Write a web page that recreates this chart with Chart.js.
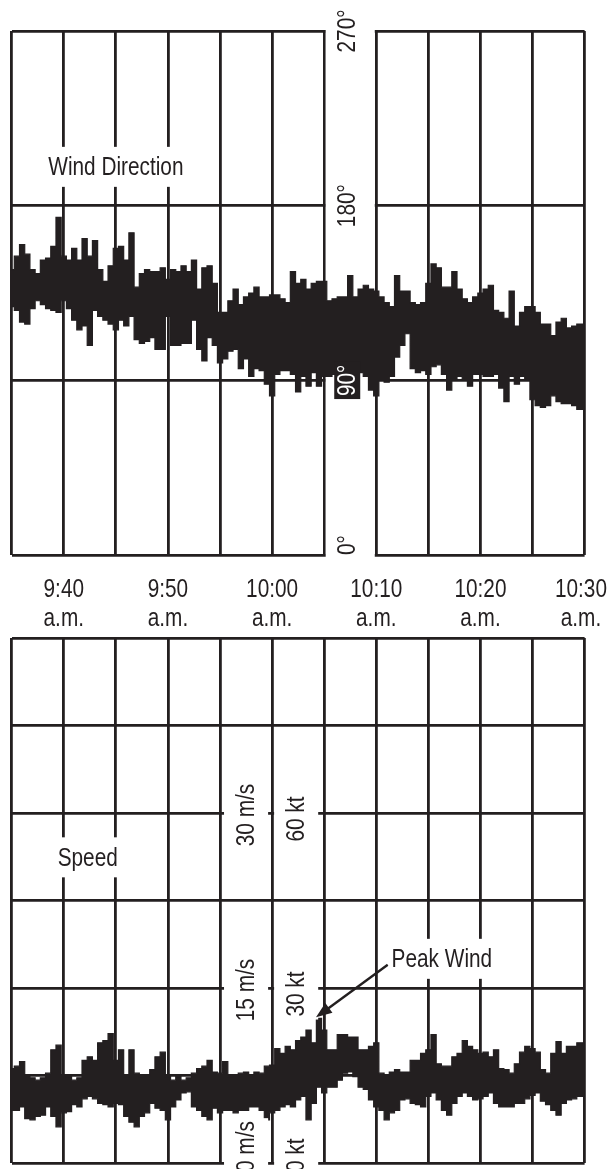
<!DOCTYPE html>
<html>
<head>
<meta charset="utf-8">
<script src="https://cdn.jsdelivr.net/npm/chart.js@4.4.0/dist/chart.umd.min.js"></script>
<style>
  html, body { margin: 0; padding: 0; background: #fff; }
  #wrap { position: relative; width: 609px; height: 1169px; overflow: hidden; }
  #wrap canvas { position: absolute; left: 0; top: 0; }
</style>
</head>
<body>
<div id="wrap">
  <canvas id="dirChart" width="609" height="1169"></canvas>
  <canvas id="speedChart" width="609" height="1169"></canvas>
</div>
<script>
/* wind record, 9:35 to 10:30 a.m. -- x is minutes after 9:35 */

const minutes = [
  0,0.5,1,1.5,2,2.5,3,3.5,4,4.5,
  5,5.5,6,6.5,7,7.5,8,8.5,9,9.5,
  10,10.5,11,11.5,12,12.5,13,13.5,14,14.5,
  15,15.5,16,16.5,17,17.5,18,18.5,19,19.5,
  20,20.5,21,21.5,22,22.5,23,23.5,24,24.5,
  25,25.5,26,26.5,27,27.5,28,28.5,29,29.5,
  30,30.5,31,31.5,32,32.5,33,33.5,34,34.5,
  35,35.5,36,36.5,37,37.5,38,38.5,39,39.5,
  40,40.5,41,41.5,42,42.5,43,43.5,44,44.5,
  45,45.5,46,46.5,47,47.5,48,48.5,49,49.5,
  50,50.5,51,51.5,52,52.5,53,53.5,54,54.5,
  55
];

// wind direction (degrees), upper and lower edge of the trace
const dirHigh = [
  147,154,160,155,147,145,152,153,159,174,
  154,152,158,152,163,154,162,147,141,149,
  158,159,152,166,138,145,147,146,146,148,
  142,147,146,149,146,152,137,148,149,140,
  125,125,131,137,129,133,135,138,133,133,
  134,134,132,130,146,140,142,137,140,141,
  141,131,132,133,133,144,133,137,139,137,
  136,133,130,128,144,136,136,130,129,130,
  140,150,148,138,138,146,137,132,130,133,
  135,137,139,126,125,122,136,118,125,128,
  128,125,119,119,113,120,122,117,118,119,
  119
];
const dirLow = [
  128,126,120,119,127,131,129,127,126,125,
  131,127,121,116,118,108,126,123,121,119,
  116,121,118,123,111,109,110,112,106,106,
  123,108,108,109,109,121,106,100,112,108,
  99,101,105,106,96,101,92,96,95,88,
  82,93,95,95,93,84,92,87,94,87,
  92,92,93,94,96,99,95,94,92,85,
  82,90,89,92,102,108,114,96,94,95,
  93,97,98,93,85,90,92,90,87,93,
  93,92,92,93,86,79,92,88,92,91,
  80,77,76,77,82,79,78,78,77,75,
  75
];

// wind speed (m/s), upper and lower edge of the trace
const speedHigh = [
  8.1,8.3,8.7,7.5,7.3,7.1,7.3,7.7,9.7,10.1,
  7.5,7.4,7.1,7.3,8.8,9.1,8.8,10.3,10.5,11.1,
  8.8,9.7,7.4,9.7,7.7,7.4,7.5,8.0,9.1,9.5,
  7.4,7.1,7.4,7.1,7.3,7.7,8.1,8.3,8.8,7.8,
  7.7,8.7,7.4,7.5,7.7,7.8,7.5,7.8,7.7,8.3,
  8.4,9.8,9.4,10.0,9.7,10.5,10.8,11.4,10.3,12.4,
  11.4,9.7,9.7,11.0,11.0,10.8,10.8,9.7,9.7,10.0,
  10.3,7.7,7.5,7.8,8.0,7.8,7.8,8.8,8.8,9.4,
  9.7,11.0,8.5,8.3,8.3,9.1,9.4,10.5,10.0,9.7,
  9.4,9.5,9.1,9.7,8.1,8.0,7.7,8.5,9.5,10.0,
  9.8,9.5,8.0,7.7,9.4,10.4,9.4,10.0,10.0,10.3,
  10.3
];
const speedLow = [
  4.5,4.5,4.8,3.8,3.7,4.0,4.1,4.8,4.0,3.1,
  4.3,4.4,5.0,4.8,5.5,5.7,5.5,5.1,5.0,4.8,
  5.1,5.0,4.0,3.5,3.1,4.0,4.3,5.1,4.7,4.5,
  3.7,4.8,5.4,6.0,6.1,4.8,4.5,4.0,3.7,4.7,
  4.3,4.5,4.5,4.3,4.5,4.5,4.8,4.8,4.5,3.7,
  4.3,4.5,4.8,5.0,4.8,5.4,5.7,3.7,5.1,6.5,
  6.0,6.5,6.5,7.1,7.7,7.8,7.4,6.5,6.3,5.4,
  4.8,4.5,3.7,4.3,4.5,5.4,5.5,5.1,5.0,4.8,
  5.7,6.0,5.4,4.5,4.1,5.1,5.7,6.0,5.7,5.4,
  5.5,5.7,6.0,5.1,4.8,4.8,4.8,5.1,5.1,5.5,
  5.8,6.0,5.3,5.0,4.5,4.1,5.1,5.4,5.5,5.7,
  5.7
];

// tick labels
const timeTicks = [5, 15, 25, 35, 45, 55];
const timeLabels = ['9:40', '9:50', '10:00', '10:10', '10:20', '10:30'];
const dirTicks = [270, 180, 90, 0];
const dirLabels = ['270°', '180°', '90°', '0°'];
const speedTicks = [30, 15, 0];
const msLabels = ['30 m/s', '15 m/s', '0 m/s'];
const ktLabels = ['60 kt', '30 kt', '0 kt'];

const INK = '#231f20';
const FONT = "26px 'Liberation Sans', Arial, sans-serif";
const NARROW = 0.8;   // squeeze to a condensed face

function points(ys){
  return ys.map((v, i) => ({x: minutes[i], y: v}));
}

function traceSets(high, low){
  return [
    {data: points(high), borderColor: INK, backgroundColor: INK, borderWidth: 1.2, stepped: 'middle', fill: '+1', pointRadius: 0},
    {data: points(low), borderColor: INK, borderWidth: 1.2, stepped: 'middle', fill: false, pointRadius: 0}
  ];
}

function chartOptions(yMax, yStep, padding){
  const grid = {color: INK, lineWidth: 2.8, drawTicks: false};
  return {
    responsive: false,
    animation: false,
    devicePixelRatio: 1,
    layout: {padding: padding},
    plugins: {legend: {display: false}, tooltip: {enabled: false}},
    elements: {line: {tension: 0}},
    scales: {
      x: {type: 'linear', min: 0, max: 55, ticks: {stepSize: 5, display: false}, grid: grid, border: {display: false}},
      y: {type: 'linear', min: 0, max: yMax, ticks: {stepSize: yStep, display: false}, grid: grid, border: {display: false}}
    }
  };
}

function textWidth(ctx, text){
  ctx.font = FONT;
  return ctx.measureText(text).width * NARROW;
}

// horizontal condensed text centred on cx, baseline mode as given
function putText(ctx, text, cx, y, baseline){
  ctx.save();
  ctx.translate(cx, y);
  ctx.scale(NARROW, 1);
  ctx.font = FONT;
  ctx.fillStyle = INK;
  ctx.textAlign = 'center';
  ctx.textBaseline = baseline;
  ctx.fillText(text, 0, 0);
  ctx.restore();
}

// plain horizontal label on a white patch
function boxedText(ctx, text, cx, cy){
  const w = textWidth(ctx, text);
  ctx.fillStyle = '#fff';
  ctx.fillRect(cx - w/2 - 3, cy - 20, w + 6, 40);
  putText(ctx, text, cx, cy + 1, 'middle');
}

// rotated label reading upwards; align 'center' or 'start' (start = bottom end)
function upText(ctx, text, x, y, align, halfAcross, fill, color){
  const w = textWidth(ctx, text);
  ctx.save();
  ctx.translate(x, y);
  ctx.rotate(-Math.PI / 2);
  const x0 = align === 'start' ? 0 : -w / 2;
  if(fill){
    ctx.fillStyle = fill;
    ctx.fillRect(x0 - 3, -halfAcross, w + 6, halfAcross * 2);
  }
  ctx.translate(x0, 1);
  ctx.scale(NARROW, 1);
  ctx.font = FONT;
  ctx.fillStyle = color || INK;
  ctx.textAlign = 'left';
  ctx.textBaseline = 'middle';
  ctx.fillText(text, 0, 0);
  ctx.restore();
}

/* TOP : DIRECTION */

const dirDecor = {
  id: 'dirDecor',
  beforeDatasetsDraw(chart){
    // open the frame between 10:05 and 10:10 for the scale labels
    const {ctx, chartArea, scales} = chart;
    const a = scales.x.getPixelForValue(30) + 1.5;
    const b = scales.x.getPixelForValue(35) - 1.5;
    ctx.save();
    ctx.fillStyle = '#fff';
    ctx.fillRect(a, chartArea.top - 3, b - a, chartArea.bottom - chartArea.top + 6);
    ctx.restore();
  },
  afterDatasetsDraw(chart){
    const {ctx, scales} = chart;
    const xs = scales.x, ys = scales.y;
    const gapX = (xs.getPixelForValue(30) + xs.getPixelForValue(35)) / 2 - 3;
    ctx.save();
    dirTicks.forEach((d, i) => {
      const y = ys.getPixelForValue(d);
      if(d === 0){
        upText(ctx, dirLabels[i], gapX, y, 'start', 13, '#fff');
      } else if(d === 90){
        upText(ctx, dirLabels[i], gapX, y, 'center', 13, INK, '#fff');
      } else {
        upText(ctx, dirLabels[i], gapX, y, 'center', 13, '#fff');
      }
    });
    boxedText(ctx, 'Wind Direction', xs.getPixelForValue(10), ys.getPixelForValue(200));

    timeTicks.forEach((t, i) => {
      let x = xs.getPixelForValue(t);
      const half = textWidth(ctx, timeLabels[i]) / 2;
      if(x + half > chart.width - 2) x = chart.width - 2 - half;
      putText(ctx, timeLabels[i], x, 597, 'alphabetic');
      putText(ctx, 'a.m.', x, 626, 'alphabetic');
    });
    ctx.restore();
  }
};

new Chart(document.getElementById('dirChart'), {
  type: 'line',
  data: {datasets: traceSets(dirHigh, dirLow)},
  options: chartOptions(270, 90, {left: 11.7, right: 24.4, top: 31, bottom: 614}),
  plugins: [dirDecor]
});

/* BOTTOM : SPEED */

const speedDecor = {
  id: 'speedDecor',
  afterDatasetsDraw(chart){
    const {ctx, scales} = chart;
    const xs = scales.x, ys = scales.y;
    const x20 = xs.getPixelForValue(20), x25 = xs.getPixelForValue(25), x30 = xs.getPixelForValue(30);
    const msX = (x20 + x25) / 2, ktX = (x25 + x30) / 2 - 2;
    const halfA = (x25 - x20) / 2 - 4, halfB = (x30 - x25) / 2 - 4;
    ctx.save();
    speedTicks.forEach((v, i) => {
      const y = ys.getPixelForValue(v);
      if(v === 0){
        upText(ctx, msLabels[i], msX, y + 9, 'start', halfA, '#fff');
        upText(ctx, ktLabels[i], ktX, y + 9, 'start', halfB, '#fff');
      } else {
        upText(ctx, msLabels[i], msX, y + 2, 'center', halfA, '#fff');
        upText(ctx, ktLabels[i], ktX, y + 6, 'center', halfB, '#fff');
      }
    });

    boxedText(ctx, 'Speed', xs.getPixelForValue(7.3), ys.getPixelForValue(26.2));

    // peak wind arrow, pointing at the highest reading
    let k = 0;
    speedHigh.forEach((v, i) => { if(v > speedHigh[k]) k = i; });
    const tipX = xs.getPixelForValue(minutes[k]) - 3;
    const tipY = ys.getPixelForValue(speedHigh[k]) - 1;
    const tailX = xs.getPixelForValue(36.1);
    const tailY = ys.getPixelForValue(17.0);
    const ang = Math.atan2(tipY - tailY, tipX - tailX);
    ctx.strokeStyle = INK;
    ctx.fillStyle = INK;
    ctx.lineWidth = 2.4;
    ctx.beginPath();
    ctx.moveTo(tailX, tailY);
    ctx.lineTo(tipX - 10 * Math.cos(ang), tipY - 10 * Math.sin(ang));
    ctx.stroke();
    ctx.beginPath();
    ctx.moveTo(tipX, tipY);
    ctx.lineTo(tipX - 16 * Math.cos(ang) + 6 * Math.sin(ang), tipY - 16 * Math.sin(ang) - 6 * Math.cos(ang));
    ctx.lineTo(tipX - 16 * Math.cos(ang) - 6 * Math.sin(ang), tipY - 16 * Math.sin(ang) + 6 * Math.cos(ang));
    ctx.closePath();
    ctx.fill();

    boxedText(ctx, 'Peak Wind', xs.getPixelForValue(41.3), ys.getPixelForValue(17.5));
    ctx.restore();
  }
};

new Chart(document.getElementById('speedChart'), {
  type: 'line',
  data: {datasets: traceSets(speedHigh, speedLow)},
  options: chartOptions(45, 7.5, {left: 11.7, right: 24.4, top: 638, bottom: 6}),
  plugins: [speedDecor]
});
</script>
</body>
</html>
